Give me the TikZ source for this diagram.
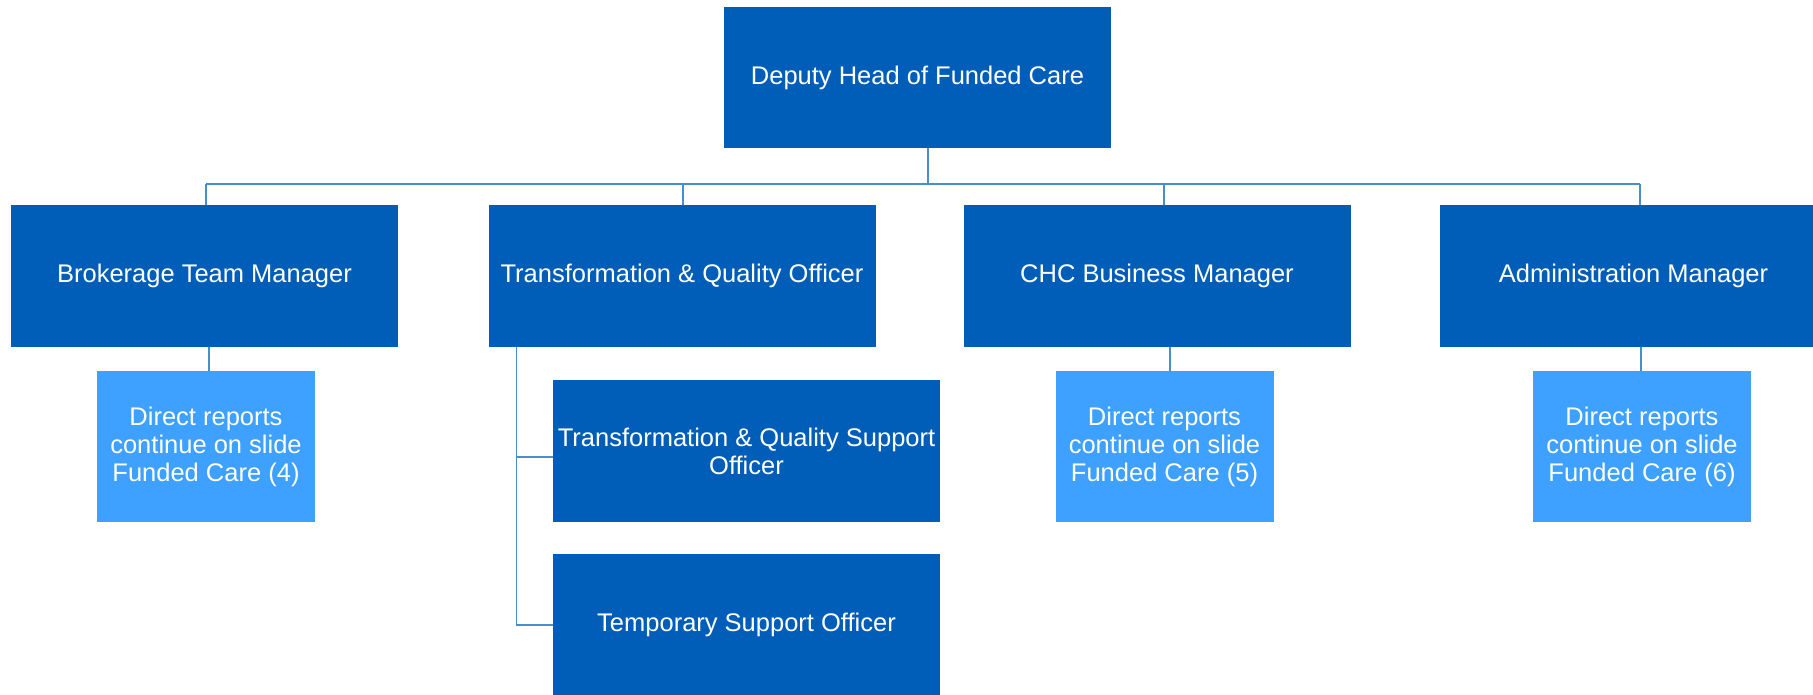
\documentclass[tikz,border=0pt]{standalone}
\usepackage{fontspec}
\setmainfont{Liberation Sans}
\usetikzlibrary{calc}
\definecolor{darkbox}{RGB}{1,94,184}
\definecolor{lightbox}{RGB}{62,160,255}
\definecolor{linecol}{RGB}{70,142,208}
\tikzset{
  base/.style={rectangle, inner sep=0pt, text=white, align=center,
    font=\fontsize{25.5}{28}\selectfont},
  dbox/.style={base, fill=darkbox, minimum width=387pt, minimum height=142pt},
  lbox/.style={base, fill=lightbox, minimum width=218pt, minimum height=151pt},
  conn/.style={draw=linecol, line width=1.5pt}
}
\begin{document}
\begin{tikzpicture}[x=1pt,y=-1pt]
\useasboundingbox (0,0) rectangle (1813,695);
\node[dbox, minimum height=141pt] (top) at (917.5,77.5) {Deputy Head of Funded Care};
\node[dbox] (bro) at (204.5,276) {Brokerage Team Manager};
\node[dbox] (tqo) at (682,276) {Transformation \& Quality Officer};
\node[dbox] (chc) at (1157,276) {CHC Business Manager};
\node[dbox] (adm) at (1633.5,276) {Administration Manager};
\node[lbox] (broc) at (206,446.5) {Direct reports\\continue on slide\\Funded Care (4)};
\node[lbox] (chcc) at (1164.5,446.5) {Direct reports\\continue on slide\\Funded Care (5)};
\node[lbox] (admc) at (1642,446.5) {Direct reports\\continue on slide\\Funded Care (6)};
\node[dbox] (tsq) at (746.5,451) {Transformation \& Quality Support\\Officer};
\node[dbox] (tso) at (746.5,625) {Temporary Support Officer};
\coordinate (busL) at (206,184);
\coordinate (busR) at (1640,184);
\draw[conn] (busL) -- (busR);
\draw[conn] ([xshift=10.5pt]top.south) -- ([xshift=10.5pt]top.south |- busL);
\draw[conn] ([xshift=1.5pt]bro.north) -- ([xshift=1.5pt]bro.north |- busL);
\draw[conn] ([xshift=1pt]tqo.north) -- ([xshift=1pt]tqo.north |- busL);
\draw[conn] ([xshift=7pt]chc.north) -- ([xshift=7pt]chc.north |- busL);
\draw[conn] ([xshift=6.5pt]adm.north) -- ([xshift=6.5pt]adm.north |- busL);
\draw[conn] ([xshift=4.5pt]bro.south) -- ([xshift=4.5pt]bro.south |- broc.north);
\draw[conn] ([xshift=13pt]chc.south) -- ([xshift=13pt]chc.south |- chcc.north);
\draw[conn] ([xshift=7.5pt]adm.south) -- ([xshift=7.5pt]adm.south |- admc.north);
\draw[conn] ([xshift=28pt]tqo.south west) |- ([yshift=-6pt]tsq.west);
\draw[conn] ([xshift=28pt]tqo.south west) |- (tso.west);
\end{tikzpicture}
\end{document}
